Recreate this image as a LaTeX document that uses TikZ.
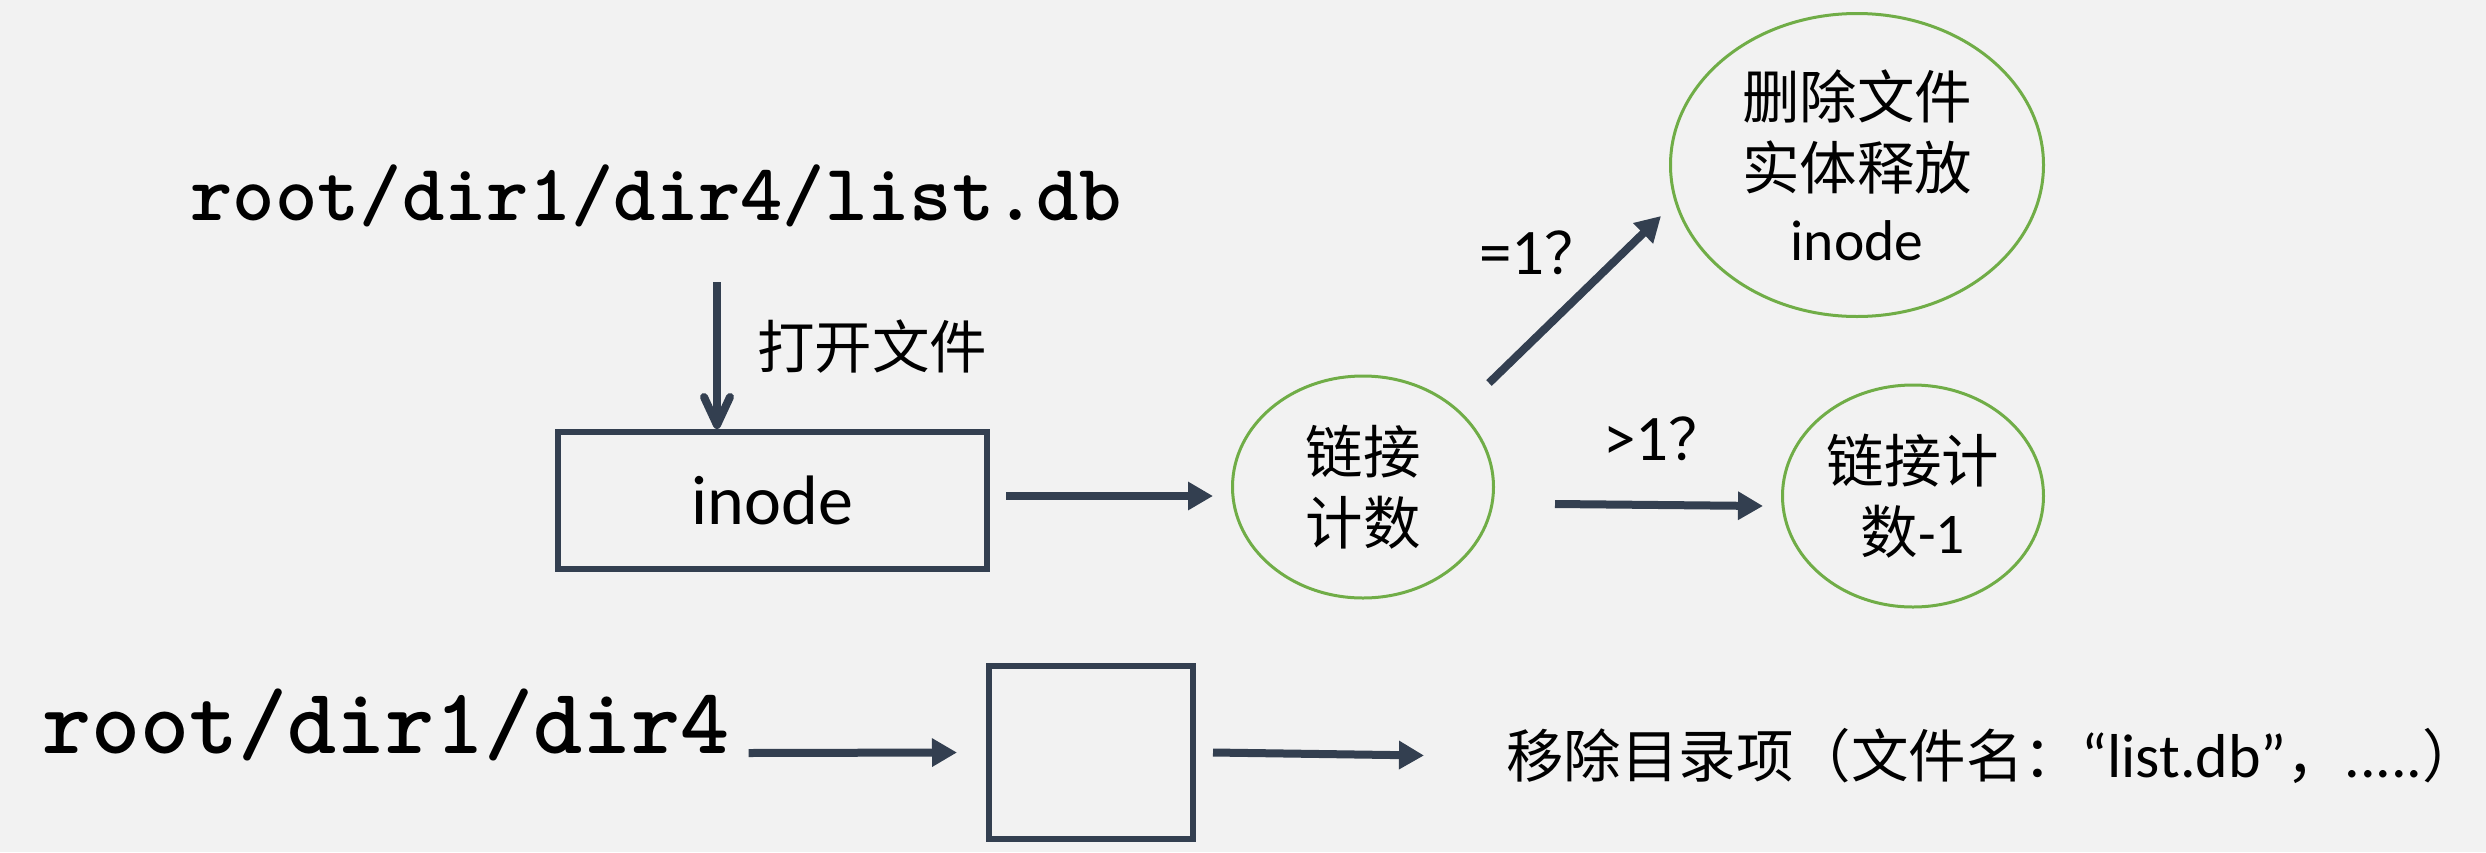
\documentclass[tikz,border=0pt]{standalone}
\usepackage{fontspec}
\setmainfont{Carlito}
\newfontfamily\cjk{Noto Sans CJK SC}
\usetikzlibrary{arrows.meta,shapes.geometric,calc}
\definecolor{bg}{HTML}{F2F2F2}
\definecolor{dk}{HTML}{333F50}
\definecolor{gr}{HTML}{70AD47}
\newcommand\cjkfont{\cjk\fontsize{28.75}{35.5}\selectfont}
\newcommand\latbig{\rmfamily\fontsize{32.5}{38}\selectfont}
\newcommand\latmid{\rmfamily\fontsize{31}{37}\selectfont}
\newcommand\inodefont{\rmfamily\fontsize{35}{42}\selectfont}
\newcommand\pathfontA{\ttfamily\bfseries\fontsize{40.3}{48}\selectfont}
\newcommand\pathfontB{\ttfamily\bfseries\fontsize{46.7}{56}\selectfont}
\begin{document}
\begin{tikzpicture}[x=0.5pt,y=-0.5pt,
  arr/.style={draw=dk, line width=4pt, -{Triangle[length=12.5pt,width=13.5pt]}},
  darr/.style={draw=dk, line width=4pt, -{Straight Barb[length=14pt,width=13pt,round]}},
  bx/.style={draw=dk, line width=3pt, rectangle, inner sep=0pt},
  el/.style={draw=gr, line width=1.5pt, ellipse, inner sep=0pt, align=center, font=\cjkfont},
  lbl/.style={inner sep=0pt, font=\cjkfont},
  pathA/.style={inner sep=0pt, font=\pathfontA},
  pathB/.style={inner sep=0pt, font=\pathfontB}
]
\fill[bg] (0,0) rectangle (2486,852);
\useasboundingbox (0,0) rectangle (2486,852);

% texts
\node[pathA, anchor=base] (p1) at (656,220) {root/dir1/dir4/list.db};
\node[pathB, anchor=base] (p2) at (386,753) {root/dir1/dir4};
\node[lbl, anchor=base west] (open) at (757,368) {打开文件};

% boxes and ellipses
\node[bx, minimum width=214.5pt, minimum height=68.5pt, font=\inodefont] (box) at (772.5,500.5) {inode};
\node[el, minimum width=130.5pt, minimum height=111pt] (lc) at (1363,487) {链接\\计数};
\node[el, minimum width=186.5pt, minimum height=151.5pt] (del) at (1857,165) {删除文件\\实体释放\\{\rmfamily inode}};
\node[el, minimum width=130.5pt, minimum height=111pt] (dec) at (1913,496) {链接计\\数{\rmfamily -1}};
\node[bx, minimum width=102pt, minimum height=86.5pt] (sb) at (1091,752.5) {};

% edge labels
\node[lbl, anchor=base west] (eq) at (1479,274) {{\latbig =1}？};
\node[lbl, anchor=base west] (gt) at (1603,460) {{\latbig >1}？};
\node[lbl, anchor=base west] (rm) at (1506,777) {移除目录项（文件名：{\latmid “list.db”}，{\latmid .....}）\kern-0.5em};

% connectors
\coordinate (a0) at (717,282);
\draw[darr] (a0) -- (a0 |- box.north);
\draw[arr] ([xshift=8pt,yshift=2.25pt]box.east) -- ([xshift=-9pt,yshift=-4.5pt]lc.west);
\draw[arr] ($(lc.center)+(126,-104)$) -- ($(del.center)+(-196,51)$);
\draw[arr] ($(lc.center)+(192,17)$) -- ($(dec.center)+(-150,10)$);
\draw[arr] ([xshift=9.5pt]p2.base east) -- ([xshift=-14.5pt]sb.west);
\draw[arr] ([xshift=8.5pt]sb.east) -- ([xshift=-41pt]rm.west);
\end{tikzpicture}
\end{document}
